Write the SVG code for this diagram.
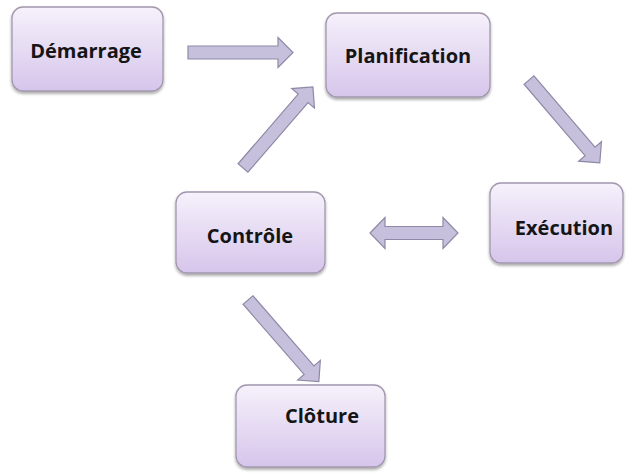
<svg xmlns="http://www.w3.org/2000/svg" width="627" height="475" viewBox="0 0 627 475">
  <defs>
    <linearGradient id="boxFill" x1="0" y1="0" x2="0" y2="1">
      <stop offset="0" stop-color="#f6f1fb"/>
      <stop offset="1" stop-color="#d6c5eb"/>
    </linearGradient>
    <filter id="soft" x="-10%" y="-10%" width="120%" height="130%">
      <feGaussianBlur in="SourceAlpha" stdDeviation="1.6"/>
      <feOffset dx="0" dy="2" result="b"/>
      <feComponentTransfer><feFuncA type="linear" slope="0.35"/></feComponentTransfer>
      <feMerge><feMergeNode/><feMergeNode in="SourceGraphic"/></feMerge>
    </filter>
  </defs>
  <style>
    .box { fill: url(#boxFill); stroke: #a297ae; stroke-width: 1.3; filter: url(#soft); }
    .label { font-family: "Open Sans", "Liberation Sans", sans-serif; font-weight: bold; font-size: 20px; fill: #151515; text-anchor: middle; }
    .arrow { fill: #c6c0dd; stroke: #8e89a6; stroke-width: 1.2; stroke-linejoin: miter; }
  </style>
  <rect width="627" height="475" fill="#ffffff"/>

  <g id="connectors">
    <!-- Démarrage to Planification -->
    <path class="arrow" d="M0,-6.5 H90 V-15 L105,0 L90,15 V6.5 H0 Z" transform="translate(188,52.5)"/>
    <!-- Planification to Exécution -->
    <path class="arrow" d="M0,-6.5 H94 V-15 L109,0 L94,15 V6.5 H0 Z" transform="translate(529,80) rotate(49.5)"/>
    <!-- Contrôle to Planification -->
    <path class="arrow" d="M0,-6.5 H92 V-15 L107,0 L92,15 V6.5 H0 Z" transform="translate(243,168) rotate(-49.2)"/>
    <!-- Contrôle to Clôture -->
    <path class="arrow" d="M0,-6.5 H93 V-15 L108,0 L93,15 V6.5 H0 Z" transform="translate(248,300) rotate(49)"/>
    <!-- Contrôle and Exécution, both ways -->
    <path class="arrow" d="M0,0 L15,-15.5 V-6.5 H73 V-15.5 L88,0 L73,15.5 V6.5 H15 V15.5 Z" transform="translate(370,233)"/>
  </g>

  <g id="demarrage">
    <rect class="box" x="12" y="7" width="151" height="84" rx="11"/>
    <text class="label" x="86" y="58">Démarrage</text>
  </g>
  <g id="planification">
    <rect class="box" x="326" y="13" width="164" height="84" rx="11"/>
    <text class="label" x="408" y="63">Planification</text>
  </g>
  <g id="execution">
    <rect class="box" x="490" y="183" width="133" height="80" rx="11"/>
    <text class="label" x="564" y="235">Exécution</text>
  </g>
  <g id="controle">
    <rect class="box" x="176" y="192" width="149" height="81" rx="11"/>
    <text class="label" x="250" y="243">Contrôle</text>
  </g>
  <g id="cloture">
    <rect class="box" x="236" y="385" width="149" height="82" rx="11"/>
    <text class="label" x="322" y="423">Clôture</text>
  </g>
</svg>
